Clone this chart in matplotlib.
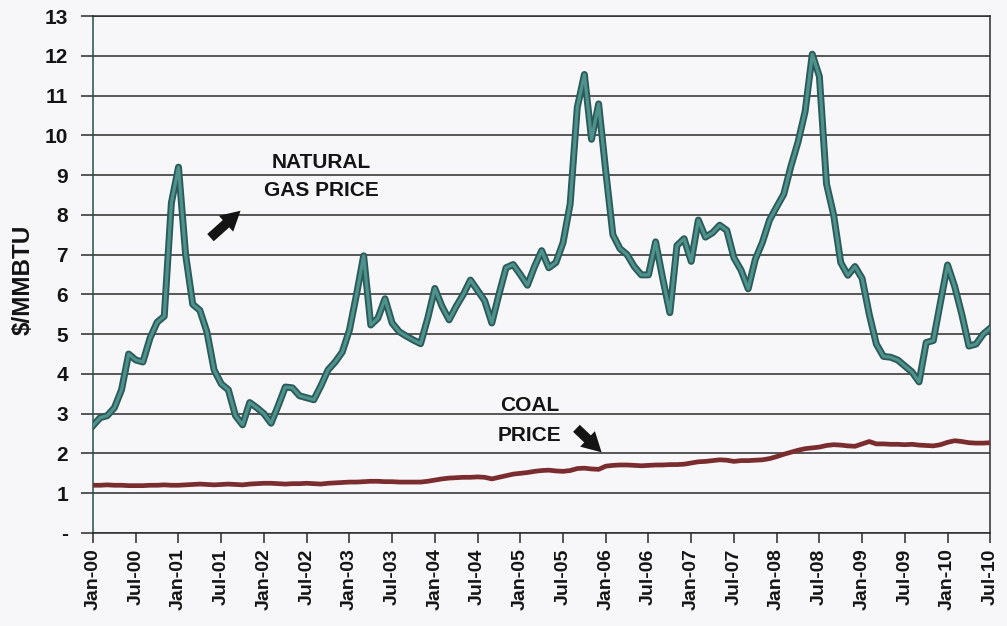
#!/usr/bin/env python3
# -*- coding: utf-8 -*-

import numpy as np
import matplotlib
matplotlib.use("Agg")
import matplotlib.pyplot as plt
import matplotlib.patheffects as pe

# =========================
# Data (monthly, Jan-00 .. Jul-10), $/MMBTU
# =========================
START_YEAR = 2000
N_MONTHS = 127

gas_price = [
    2.70, 2.90, 2.95, 3.15, 3.60, 4.50, 4.35, 4.30, 4.90, 5.30, 5.45, 8.30,
    9.20, 7.00, 5.75, 5.60, 5.05, 4.10, 3.75, 3.60, 2.95, 2.72, 3.28, 3.15,
    3.00, 2.76, 3.20, 3.67, 3.65, 3.45, 3.40, 3.35, 3.70, 4.10, 4.30, 4.55,
    5.10, 6.00, 6.97, 5.23, 5.40, 5.89, 5.28, 5.06, 4.95, 4.85, 4.76, 5.40,
    6.15, 5.70, 5.36, 5.70, 6.00, 6.36, 6.10, 5.84, 5.28, 6.00, 6.67, 6.75,
    6.50, 6.23, 6.70, 7.10, 6.67, 6.80, 7.30, 8.27, 10.70, 11.53, 9.90, 10.79,
    9.10, 7.50, 7.15, 7.00, 6.70, 6.49, 6.49, 7.32, 6.40, 5.54, 7.23, 7.40,
    6.83, 7.87, 7.44, 7.55, 7.74, 7.61, 6.92, 6.61, 6.14, 6.88, 7.31, 7.87,
    8.20, 8.52, 9.22, 9.83, 10.60, 12.04, 11.48, 8.78, 8.00, 6.80, 6.48, 6.70,
    6.40, 5.50, 4.75, 4.44, 4.42, 4.35, 4.20, 4.05, 3.80, 4.79, 4.84, 5.80,
    6.74, 6.20, 5.50, 4.70, 4.75, 5.00, 5.15,
]

coal_price = [
    1.20, 1.20, 1.21, 1.20, 1.20, 1.19, 1.19, 1.19, 1.20, 1.20, 1.21, 1.20,
    1.20, 1.21, 1.22, 1.23, 1.22, 1.21, 1.22, 1.23, 1.22, 1.21, 1.23, 1.24,
    1.25, 1.25, 1.24, 1.23, 1.24, 1.24, 1.25, 1.24, 1.23, 1.25, 1.26, 1.27,
    1.28, 1.28, 1.29, 1.30, 1.30, 1.29, 1.29, 1.28, 1.28, 1.28, 1.28, 1.30,
    1.33, 1.36, 1.38, 1.39, 1.40, 1.40, 1.41, 1.40, 1.36, 1.40, 1.44, 1.48,
    1.50, 1.52, 1.55, 1.57, 1.58, 1.56, 1.55, 1.57, 1.62, 1.63, 1.61, 1.60,
    1.68, 1.70, 1.71, 1.71, 1.70, 1.69, 1.70, 1.71, 1.71, 1.72, 1.72, 1.73,
    1.76, 1.79, 1.80, 1.82, 1.84, 1.83, 1.80, 1.82, 1.82, 1.83, 1.84, 1.87,
    1.92, 1.98, 2.03, 2.08, 2.12, 2.14, 2.16, 2.20, 2.22, 2.21, 2.19, 2.18,
    2.24, 2.30, 2.24, 2.24, 2.23, 2.23, 2.22, 2.23, 2.21, 2.20, 2.19, 2.22,
    2.28, 2.32, 2.30, 2.27, 2.26, 2.26, 2.27,
]

y_ticks = list(range(0, 14))
y_tick_labels = ["-"] + [str(v) for v in range(1, 14)]

tick_months = list(range(0, N_MONTHS, 6))
tick_labels = [
    f"{'Jan' if m % 12 == 0 else 'Jul'}-{(START_YEAR + m // 12) % 100:02d}"
    for m in tick_months
]

# =========================
# Style
# =========================
plt.rcParams["font.family"] = ["Liberation Sans", "DejaVu Sans"]
plt.rcParams["font.weight"] = "bold"

BG = "#f7f6f8"
GRID = "#2b2b2b"
GAS_EDGE = "#2a5a5a"
GAS_FILL = "#4f928c"
COAL = "#7a2c2e"
INK = "#141414"

fig = plt.figure(figsize=(10.07, 6.26), dpi=100)
fig.patch.set_facecolor(BG)
ax = fig.add_axes([0.0924, 0.1486, 0.891, 0.8258])
ax.set_facecolor(BG)

months = np.arange(N_MONTHS)

ax.plot(months, coal_price, color=COAL, lw=3.4, solid_joinstyle="round", zorder=3)
ax.plot(months, gas_price, color=GAS_FILL, lw=2.3, solid_joinstyle="round",
        zorder=4,
        path_effects=[pe.Stroke(linewidth=5.0, foreground=GAS_EDGE), pe.Normal()])

ax.set_xlim(0, N_MONTHS - 1)
ax.set_ylim(0, 13)

ax.set_yticks(y_ticks)
ax.set_yticklabels(y_tick_labels, fontsize=15, fontweight="bold", color=INK)
ax.set_xticks(tick_months)
ax.set_xticklabels(tick_labels, rotation=90, fontsize=14, fontweight="bold", color=INK)

ax.tick_params(axis="y", length=9, width=1.1, color=GRID, pad=9)
ax.tick_params(axis="x", length=7, width=1.1, color=GRID, pad=4)

ax.grid(True, axis="y", color=GRID, lw=1.1)
ax.set_axisbelow(True)
for side in ["left", "right", "bottom", "top"]:
    ax.spines[side].set_color(GRID)
    ax.spines[side].set_linewidth(1.1)
ax.spines["left"].set_color("#25504d")

ax.set_ylabel("\\$/MMBTU", fontsize=17.5, fontweight="bold", color=INK)
ax.yaxis.set_label_coords(-0.065, 0.49)

# annotations
arrow_style = "simple,head_length=1.0,head_width=1.1,tail_width=0.5"
ax.text(32.0, 8.97, "NATURAL\nGAS PRICE", ha="center", va="center",
        fontsize=15, fontweight="bold", linespacing=1.6, color=INK)
ax.annotate("", xy=(21.0, 8.15), xytext=(16.2, 7.38),
            arrowprops=dict(arrowstyle=arrow_style, color=INK, lw=0,
                            mutation_scale=14))
ax.text(61.3, 2.83, "COAL\nPRICE", ha="center", va="center",
        fontsize=15, fontweight="bold", linespacing=1.75, color=INK)
ax.annotate("", xy=(71.7, 1.98), xytext=(67.6, 2.68),
            arrowprops=dict(arrowstyle=arrow_style, color=INK, lw=0,
                            mutation_scale=14))

fig.savefig("out.png", dpi=100, facecolor=BG)
plt.close(fig)
